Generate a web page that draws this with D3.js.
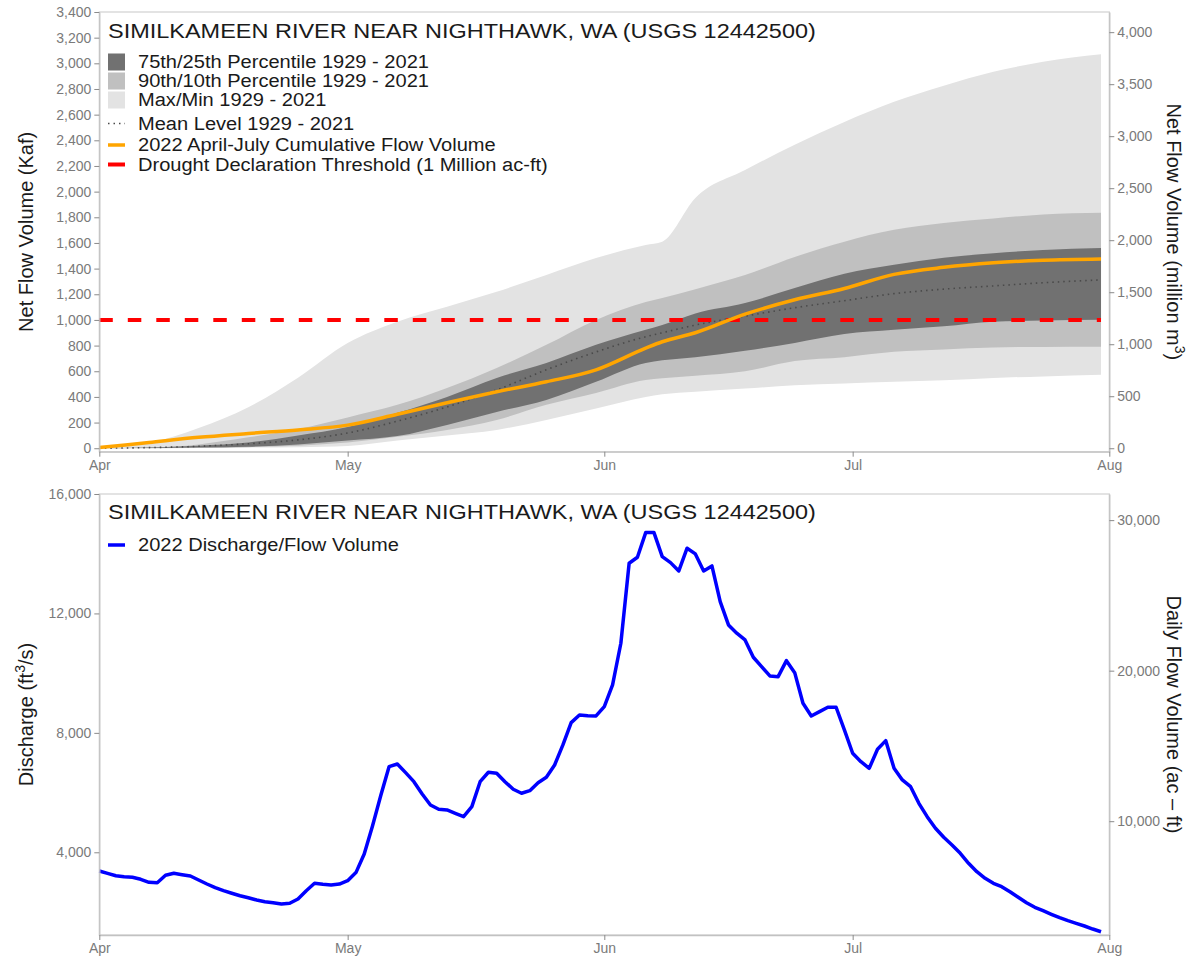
<!DOCTYPE html>
<html><head><meta charset="utf-8">
<script src="https://cdn.jsdelivr.net/npm/d3@7"></script>
<style>
body{margin:0;background:#fff}
svg{display:block}
text{font-family:"Liberation Sans",Arial,Helvetica,sans-serif}
</style>
</head><body>
<svg id="c" width="1201" height="961"></svg>
<script>
// ---------- DATA ----------
const titleText = "SIMILKAMEEN RIVER NEAR NIGHTHAWK, WA (USGS 12442500)";
const monthTicks = ["2022-04-01","2022-05-01","2022-06-01","2022-07-01","2022-08-01"];
const bandDates = ["2022-04-01","2022-04-07","2022-04-13","2022-04-19","2022-04-25","2022-05-01","2022-05-07","2022-05-13","2022-05-19","2022-05-25","2022-05-31","2022-06-06","2022-06-08","2022-06-12","2022-06-18","2022-06-24","2022-06-30","2022-07-06","2022-07-12","2022-07-18","2022-07-24","2022-07-31"];
const maxVals  = [0, 40, 157, 320, 550, 820, 986, 1103, 1219, 1351, 1482, 1584, 1610, 1950, 2168, 2365, 2543, 2700, 2825, 2934, 3012, 3070];
const minVals  = [0, 0, 2, 5, 8, 18, 60, 100, 143, 221, 310, 400, 420, 440, 465, 490, 505, 518, 530, 548, 560, 572];
const p90Vals  = [0, 5, 30, 85, 150, 240, 338, 470, 626, 806, 1000, 1140, 1170, 1240, 1350, 1491, 1610, 1702, 1755, 1790, 1822, 1835];
const p10Vals  = [0, 0, 3, 8, 20, 45, 89, 143, 221, 338, 431, 532, 545, 565, 600, 680, 710, 752, 770, 785, 790, 791];
const p75Vals  = [0, 5, 20, 45, 100, 166, 276, 400, 548, 665, 806, 923, 960, 1050, 1131, 1249, 1360, 1430, 1485, 1520, 1545, 1561];
const p25Vals  = [0, 1, 5, 12, 30, 60, 95, 182, 283, 376, 518, 665, 685, 710, 760, 821, 890, 923, 950, 986, 995, 1001];
const meanVals = [0, 5, 15, 35, 65, 119, 211, 322, 455, 611, 751, 869, 900, 960, 1030, 1095, 1150, 1205, 1240, 1265, 1290, 1312];
const cum2022  = [5, 45, 85, 115, 143, 180, 265, 355, 440, 518, 611, 780, 830, 900, 1045, 1157, 1245, 1355, 1410, 1445, 1465, 1475];
const droughtThreshold = 1000;
const leftTicksTop = [0,200,400,600,800,1000,1200,1400,1600,1800,2000,2200,2400,2600,2800,3000,3200,3400];
const rightTicksTop = [0,500,1000,1500,2000,2500,3000,3500,4000];
const leftTicksBot = [4000,8000,12000,16000];
const rightTicksBot = [10000,20000,30000];
// daily discharge 2022, Apr 1 .. Jul 31 (cfs)
const dailyStart = "2022-04-01";
const discharge = [3374,3296,3216,3183,3162,3095,2995,2982,3230,3296,
 3250,3206,3072,2938,2814,2714,2627,2546,2479,2402,
 2345,2312,2268,2291,2436,2714,2961,2928,2905,2938,
 3050,3320,3940,4880,5900,6868,6958,6667,6365,5953,
 5585,5440,5417,5306,5193,5528,6365,6680,6647,6365,
 6110,5977,6064,6332,6513,6925,7595,8342,8600,8576,
 8566,8880,9605,11001,13681,13882,14707,14707,13903,13702,
 13424,14184,13993,13424,13591,12395,11615,11337,11112,10533,
 10218,9907,9883,10419,10017,8992,8566,8710,8858,8858,
 8097,7317,7035,6814,7450,7739,6814,6422,6198,5641,
 5193,4804,4503,4245,3966,3632,3350,3129,2961,2848,
 2680,2492,2312,2157,2044,1923,1809,1709,1621,1531,
 1430,1340];
const KAF_TO_MM3 = 1.2335;
const CFS_TO_ACFT = 1.9835;

// ---------- SETUP ----------
const parse = d3.utcParse("%Y-%m-%d");
const svg = d3.select("#c");
const L = 99.3, R = 1109.3;
const x = d3.scaleUtc().domain([parse(monthTicks[0]), parse(monthTicks[4])]).range([L, R]);

const tickCol = "#8a8a8a", labCol = "#7a7a7a", borderCol = "#d4d4d4", axisCol = "#c2c2c2";
const SX = 1.14; // horizontal stretch of the reference lettering

function styleAxis(g){
  g.select(".domain").attr("stroke", axisCol).attr("stroke-width", 1.3);
  g.selectAll(".tick line").attr("stroke", tickCol).attr("stroke-width", 1);
  g.selectAll(".tick text").attr("fill", labCol).style("font-size","14px").style("font-family","'Liberation Sans',Arial,sans-serif");
}
function sText(px, py, size, str){
  return svg.append("g").attr("transform",`translate(${px},${py}) scale(${SX},1)`)
    .append("text").attr("x",0).attr("y",0).attr("dy","0.35em").attr("fill","#1a1a1a")
    .style("font-size", size+"px").text(str);
}

// ---------- TOP PANEL ----------
const tTop = 12, tBot = 451.7;
const yT = d3.scaleLinear().domain([-27, 3400]).range([tBot, tTop]);
const yTR = d3.scaleLinear().domain([-27*KAF_TO_MM3, 3400*KAF_TO_MM3]).range([tBot, tTop]);

svg.append("rect").attr("x",L).attr("y",tTop).attr("width",R-L).attr("height",tBot-tTop)
  .attr("fill","none").attr("stroke",borderCol).attr("stroke-width",1.3);

const bd = bandDates.map(parse);
function band(lo, hi, col){
  const a = d3.area().curve(d3.curveMonotoneX)
    .x((d,i)=>x(bd[i])).y0((d,i)=>yT(lo[i])).y1((d,i)=>yT(hi[i]));
  svg.append("path").datum(bd).attr("d", a).attr("fill", col);
}
const cLight = "#e3e3e3", cMid = "#c0c0c0", cDark = "#717171";
band(minVals, maxVals, cLight);
band(p10Vals, p90Vals, cMid);
band(p25Vals, p75Vals, cDark);

const lineT = vals => d3.line().curve(d3.curveMonotoneX).x((d,i)=>x(bd[i])).y((d,i)=>yT(vals[i]))(bd);
svg.append("path").attr("d", lineT(meanVals)).attr("fill","none")
  .attr("stroke","#4a4a4a").attr("stroke-width",1.6).attr("stroke-dasharray","1.5,4");
svg.append("line").attr("x1",x(bd[0])).attr("x2",x(bd[bd.length-1]))
  .attr("y1",yT(droughtThreshold)).attr("y2",yT(droughtThreshold))
  .attr("stroke","#ff0000").attr("stroke-width",4).attr("stroke-dasharray","13.5,15");
svg.append("path").attr("d", lineT(cum2022)).attr("fill","none")
  .attr("stroke","#ffa500").attr("stroke-width",3.5);

svg.append("g").attr("transform",`translate(${L},0)`)
  .call(d3.axisLeft(yT).tickValues(leftTicksTop).tickFormat(d3.format(",")).tickSize(5).tickPadding(3).tickSizeOuter(0))
  .call(styleAxis);
svg.append("g").attr("transform",`translate(${R},0)`)
  .call(d3.axisRight(yTR).tickValues(rightTicksTop).tickFormat(d3.format(",")).tickSize(5).tickPadding(3).tickSizeOuter(0))
  .call(styleAxis);
svg.append("g").attr("transform",`translate(0,${tBot})`)
  .call(d3.axisBottom(x).tickValues(monthTicks.map(parse)).tickFormat(d3.utcFormat("%b")).tickSize(5).tickPadding(3).tickSizeOuter(0))
  .call(styleAxis);

// titles / legend top
sText(108, 31, 20.6, titleText);
const fillLeg = [[cDark,"75th/25th Percentile 1929 - 2021"],[cMid,"90th/10th Percentile 1929 - 2021"],[cLight,"Max/Min 1929 - 2021"]];
const fillY = [62, 81, 100];
fillLeg.forEach((d,i)=>{
  svg.append("rect").attr("x",108).attr("y",fillY[i]-8.5).attr("width",17).attr("height",17).attr("fill",d[0]);
  sText(138, fillY[i], 17.6, d[1]);
});
const lineLeg = [["#4a4a4a","1.5,4",1.6,"Mean Level 1929 - 2021"],["#ffa500",null,3.5,"2022 April-July Cumulative Flow Volume"],["#ff0000",null,4,"Drought Declaration Threshold (1 Million ac-ft)"]];
const lineY = [123.5, 145, 164.5];
lineLeg.forEach((d,i)=>{
  const l = svg.append("line").attr("x1",108).attr("x2",125).attr("y1",lineY[i]).attr("y2",lineY[i]).attr("stroke",d[0]).attr("stroke-width",d[2]);
  if(d[1]) l.attr("stroke-dasharray",d[1]);
  sText(138, lineY[i], 17.6, d[3]);
});

// axis titles top
const tMid = (tTop+tBot)/2;
svg.append("text").attr("transform",`translate(33,${tMid}) rotate(-90)`).attr("text-anchor","middle")
  .attr("fill","#1a1a1a").style("font-size","20px").text("Net Flow Volume (Kaf)");
const rt = svg.append("text").attr("transform",`translate(1167,${tMid}) rotate(90)`).attr("text-anchor","middle")
  .attr("fill","#1a1a1a").style("font-size","20px");
rt.append("tspan").text("Net Flow Volume (million m");
rt.append("tspan").attr("dy",-8).style("font-size","14px").text("3");
rt.append("tspan").attr("dy",8).text(")");

// ---------- BOTTOM PANEL ----------
const bTop = 494, bBot = 935;
const yB = d3.scaleLinear().domain([1230, 16000]).range([bBot, bTop]);
const yBR = d3.scaleLinear().domain([1230*CFS_TO_ACFT, 16000*CFS_TO_ACFT]).range([bBot, bTop]);

svg.append("rect").attr("x",L).attr("y",bTop).attr("width",R-L).attr("height",bBot-bTop)
  .attr("fill","none").attr("stroke",borderCol).attr("stroke-width",1.3);

const start = parse(dailyStart);
const dd = discharge.map((v,i)=>({date: d3.utcDay.offset(start,i), v}));
svg.append("path").datum(dd).attr("fill","none").attr("stroke","#0000ff").attr("stroke-width",3.5)
  .attr("stroke-linejoin","round")
  .attr("d", d3.line().x(d=>x(d.date)).y(d=>yB(d.v)));

svg.append("g").attr("transform",`translate(${L},0)`)
  .call(d3.axisLeft(yB).tickValues(leftTicksBot).tickFormat(d3.format(",")).tickSize(5).tickPadding(3).tickSizeOuter(0))
  .call(styleAxis);
svg.append("g").attr("transform",`translate(${R},0)`)
  .call(d3.axisRight(yBR).tickValues(rightTicksBot).tickFormat(d3.format(",")).tickSize(5).tickPadding(3).tickSizeOuter(0))
  .call(styleAxis);
svg.append("g").attr("transform",`translate(0,${bBot})`)
  .call(d3.axisBottom(x).tickValues(monthTicks.map(parse)).tickFormat(d3.utcFormat("%b")).tickSize(5).tickPadding(3).tickSizeOuter(0))
  .call(styleAxis);

sText(108, 512, 20.6, titleText);
svg.append("line").attr("x1",108).attr("x2",125).attr("y1",545).attr("y2",545).attr("stroke","#0000ff").attr("stroke-width",3.5);
sText(138, 545, 17.6, "2022 Discharge/Flow Volume");

const bMid = (bTop+bBot)/2;
const lb = svg.append("text").attr("transform",`translate(33,${bMid}) rotate(-90)`).attr("text-anchor","middle")
  .attr("fill","#1a1a1a").style("font-size","20px");
lb.append("tspan").text("Discharge (ft");
lb.append("tspan").attr("dy",-8).style("font-size","14px").text("3");
lb.append("tspan").attr("dy",8).text("/s)");
svg.append("text").attr("transform",`translate(1167,${bMid}) rotate(90)`).attr("text-anchor","middle")
  .attr("fill","#1a1a1a").style("font-size","20px").text("Daily Flow Volume (ac \u2013 ft)");
</script>
</body></html>
